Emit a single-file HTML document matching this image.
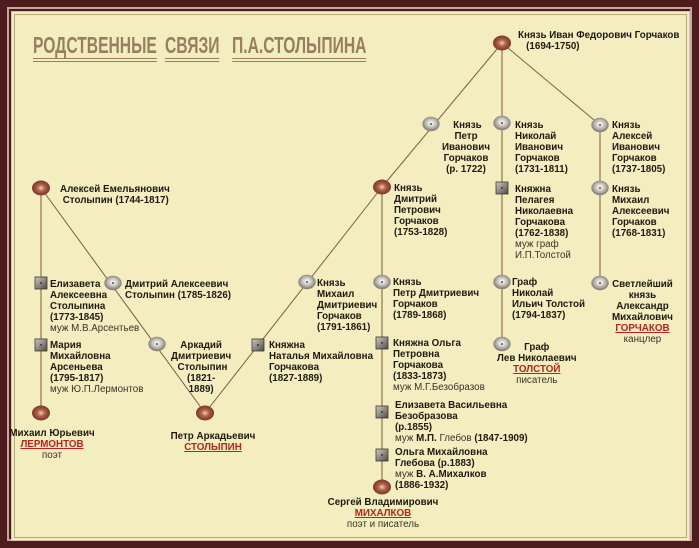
<!DOCTYPE html>
<html><head><meta charset="utf-8"><style>
*{margin:0;padding:0}
body{width:699px;height:548px;overflow:hidden;background:#4e1c1c;position:relative;font-family:"Liberation Sans","DejaVu Sans",sans-serif}
.f1{position:absolute;left:7px;top:7px;right:7px;bottom:7px;border:2px solid #c8a6a0}
.f2{position:absolute;left:11px;top:11px;width:677px;height:528px;border:1px solid #d8c4b8;background:#f3edbf}
.f3{position:absolute;left:14px;top:14px;width:671px;height:522px;border:1px solid #b8a878}
.t{position:absolute;font-size:9.8px;font-weight:bold;line-height:11px;color:#1e1a12;white-space:nowrap}
.n{font-weight:normal;color:#3a3428}
.r{color:#b8241c;text-decoration:underline}
.c{text-align:center}
.title{position:absolute;left:33px;top:32px;font-family:"Liberation Sans Narrow","Liberation Sans",sans-serif;font-size:23px;font-weight:bold;color:#968060;transform:scaleX(0.68);transform-origin:left;white-space:nowrap}
.title span{border-bottom:4px double #968060;padding-bottom:0px;margin-right:12px}
svg{position:absolute;left:0;top:0}
</style></head><body>
<div class="f1"></div><div class="f2"></div><div class="f3"></div>
<div class="title"><span>РОДСТВЕННЫЕ</span><span>СВЯЗИ</span> <span>П.А.СТОЛЫПИНА</span></div>
<svg width="699" height="548">
<defs>
<radialGradient id="b" cx="50%" cy="50%" r="55%"><stop offset="0" stop-color="#f0d0a8"/><stop offset="0.4" stop-color="#b0604a"/><stop offset="1" stop-color="#6e2e22"/></radialGradient>
<radialGradient id="g" cx="50%" cy="45%" r="55%"><stop offset="0" stop-color="#ffffff"/><stop offset="0.5" stop-color="#c8c4bc"/><stop offset="1" stop-color="#7a7670"/></radialGradient>
<linearGradient id="s" x1="0" y1="0" x2="1" y2="1"><stop offset="0" stop-color="#d0ccc4"/><stop offset="1" stop-color="#4e4a44"/></linearGradient>
</defs>
<g stroke="#7a6040" stroke-width="1" fill="none">
<line x1="502" y1="43" x2="382" y2="187"/>
<line x1="382" y1="187" x2="205" y2="413"/>
<line x1="41" y1="188" x2="205" y2="413"/>
<line x1="41" y1="188" x2="41" y2="413"/>
<line x1="382" y1="187" x2="382" y2="487"/>
<line x1="502" y1="43" x2="502" y2="344"/>
<line x1="502" y1="43" x2="600" y2="125"/>
<line x1="600" y1="125" x2="600" y2="283"/>
</g>
<g id="nodes">
<ellipse cx="502" cy="43" rx="9" ry="7.5" fill="url(#b)"/>
<ellipse cx="382" cy="187" rx="9" ry="7.5" fill="url(#b)"/>
<ellipse cx="41" cy="188" rx="9" ry="7.5" fill="url(#b)"/>
<ellipse cx="41" cy="413" rx="9" ry="7.5" fill="url(#b)"/>
<ellipse cx="205" cy="413" rx="9" ry="7.5" fill="url(#b)"/>
<ellipse cx="382" cy="487" rx="9" ry="7.5" fill="url(#b)"/>
<g fill="url(#g)" stroke="#8a8680" stroke-width="0.5">
<ellipse cx="431" cy="124" rx="8.5" ry="7"/>
<ellipse cx="502" cy="123" rx="8.5" ry="7"/>
<ellipse cx="600" cy="125" rx="8.5" ry="7"/>
<ellipse cx="600" cy="188" rx="8.5" ry="7"/>
<ellipse cx="382" cy="282" rx="8.5" ry="7"/>
<ellipse cx="502" cy="282" rx="8.5" ry="7"/>
<ellipse cx="600" cy="283" rx="8.5" ry="7"/>
<ellipse cx="502" cy="344" rx="8.5" ry="7"/>
<ellipse cx="113" cy="283" rx="8.5" ry="7"/>
<ellipse cx="157" cy="344" rx="8.5" ry="7"/>
<ellipse cx="307" cy="282" rx="8.5" ry="7"/>
</g>
<g fill="url(#s)" stroke="#3a3630" stroke-width="0.8">
<rect x="496" y="182" width="12" height="12"/>
<rect x="376" y="337" width="12" height="12"/>
<rect x="376" y="406" width="12" height="12"/>
<rect x="376" y="449" width="12" height="12"/>
<rect x="35" y="277" width="12" height="12"/>
<rect x="35" y="339" width="12" height="12"/>
<rect x="252" y="339" width="12" height="12"/>
</g>
<g fill="#222">
<circle cx="502" cy="188" r="0.9"/><circle cx="382" cy="343" r="0.9"/><circle cx="382" cy="412" r="0.9"/><circle cx="382" cy="455" r="0.9"/><circle cx="41" cy="283" r="0.9"/><circle cx="41" cy="345" r="0.9"/><circle cx="258" cy="345" r="0.9"/>
<circle cx="431" cy="124" r="0.9"/><circle cx="502" cy="123" r="0.9"/><circle cx="600" cy="125" r="0.9"/><circle cx="600" cy="188" r="0.9"/><circle cx="382" cy="282" r="0.9"/><circle cx="502" cy="282" r="0.9"/><circle cx="600" cy="283" r="0.9"/><circle cx="502" cy="344" r="0.9"/><circle cx="113" cy="283" r="0.9"/><circle cx="157" cy="344" r="0.9"/><circle cx="307" cy="282" r="0.9"/>
</g>
</g>
</svg>
<div class="t" style="left:518px;top:30px">Князь Иван Федорович Горчаков<br>&nbsp;&nbsp;&nbsp;(1694-1750)</div>
<div class="t c" style="left:442px;top:120px">&nbsp;Князь<br>Петр<br>Иванович<br>Горчаков<br>(р. 1722)</div>
<div class="t" style="left:515px;top:120px">Князь<br>Николай<br>Иванович<br>Горчаков<br>(1731-1811)</div>
<div class="t" style="left:612px;top:120px">Князь<br>Алексей<br>Иванович<br>Горчаков<br>(1737-1805)</div>
<div class="t" style="left:394px;top:183px">Князь<br>Дмитрий<br>Петрович<br>Горчаков<br>(1753-1828)</div>
<div class="t" style="left:515px;top:184px">Княжна<br>Пелагея<br>Николаевна<br>Горчакова<br>(1762-1838)<br><span class="n">муж граф<br>И.П.Толстой</span></div>
<div class="t" style="left:612px;top:184px">Князь<br>Михаил<br>Алексеевич<br>Горчаков<br>(1768-1831)</div>
<div class="t" style="left:393px;top:277px">Князь<br>Петр Дмитриевич<br>Горчаков<br>(1789-1868)</div>
<div class="t" style="left:512px;top:277px">Граф<br>Николай<br>Ильич Толстой<br>(1794-1837)</div>
<div class="t c" style="left:612px;top:279px">Светлейший<br>князь<br>Александр<br>Михайлович<br><span class="r">ГОРЧАКОВ</span><br><span class="n">канцлер</span></div>
<div class="t" style="left:393px;top:338px">Княжна Ольга<br>Петровна<br>Горчакова<br>(1833-1873)<br><span class="n">муж М.Г.Безобразов</span></div>
<div class="t c" style="left:497px;top:342px">Граф<br>Лев Николаевич<br><span class="r">ТОЛСТОЙ</span><br><span class="n">писатель</span></div>
<div class="t" style="left:395px;top:400px">Елизавета Васильевна<br>Безобразова<br>(р.1855)<br><span class="n">муж </span> М.П. <span class="n">Глебов</span> (1847-1909)</div>
<div class="t" style="left:395px;top:447px">Ольга Михайловна<br>Глебова (р.1883)<br><span class="n">муж</span> В. А.Михалков<br>(1886-1932)</div>
<div class="t c" style="left:318px;top:497px;width:130px">Сергей Владимирович<br><span class="r">МИХАЛКОВ</span><br><span class="n">поэт и писатель</span></div>
<div class="t" style="left:60px;top:184px">Алексей Емельянович<br>&nbsp;Столыпин (1744-1817)</div>
<div class="t" style="left:50px;top:279px">Елизавета<br>Алексеевна<br>Столыпина<br>(1773-1845)<br><span class="n">муж М.В.Арсентьев</span></div>
<div class="t" style="left:125px;top:279px">Дмитрий Алексеевич<br>Столыпин (1785-1826)</div>
<div class="t" style="left:50px;top:340px">Мария<br>Михайловна<br>Арсеньева<br>(1795-1817)<br><span class="n">муж Ю.П.Лермонтов</span></div>
<div class="t c" style="left:171px;top:340px">Аркадий<br>Дмитриевич<br>&nbsp;Столыпин<br>(1821-<br>1889)</div>
<div class="t" style="left:269px;top:340px">Княжна<br>Наталья Михайловна<br>Горчакова<br>(1827-1889)</div>
<div class="t" style="left:317px;top:278px">Князь<br>Михаил<br>Дмитриевич<br>Горчаков<br>(1791-1861)</div>
<div class="t c" style="left:0px;top:428px;width:104px">Михаил Юрьевич<br><span class="r">ЛЕРМОНТОВ</span><br><span class="n">поэт</span></div>
<div class="t c" style="left:158px;top:431px;width:110px">Петр Аркадьевич<br><span class="r">СТОЛЫПИН</span></div>
</body></html>
